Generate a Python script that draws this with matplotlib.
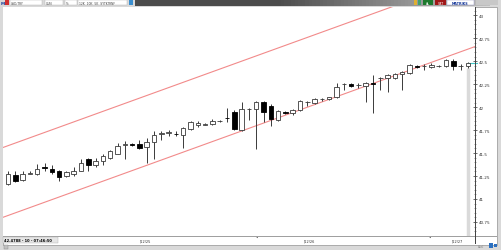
import matplotlib
matplotlib.use("Agg")
import matplotlib.pyplot as plt
from matplotlib.patches import Rectangle
import numpy as np

W, H = 501, 251

# ======================
# DATA
# ======================
opens = [41.16, 41.26, 41.21, 41.275, 41.27, 41.345, 41.33, 41.30, 41.245, 41.27,
         41.31, 41.43, 41.365, 41.41, 41.45, 41.495, 41.59, 41.595, 41.595, 41.57,
         41.615, 41.71, 41.72, 41.712, 41.70, 41.765, 41.80, 41.81, 41.82, 41.85,
         41.885, 41.95, 41.755, 41.98, 41.98, 42.06, 42.015, 41.865, 41.95, 41.94,
         41.97, 42.058, 42.047, 42.09, 42.09, 42.11, 42.253, 42.253, 42.24, 42.23,
         42.265, 42.318, 42.32, 42.32, 42.36, 42.37, 42.45, 42.448, 42.435, 42.448,
         42.45, 42.50, 42.448, 42.45]
highs = [41.30, 41.30, 41.31, 41.30, 41.38, 41.39, 41.365, 41.32, 41.31, 41.345,
         41.43, 41.45, 41.45, 41.485, 41.53, 41.605, 41.635, 41.605, 41.645, 41.66,
         41.735, 41.745, 41.755, 41.735, 41.785, 41.85, 41.85, 41.83, 41.875, 41.86,
         41.99, 41.97, 42.06, 41.99, 42.07, 42.07, 42.035, 41.97, 41.96, 41.98,
         42.08, 42.07, 42.10, 42.10, 42.11, 42.265, 42.265, 42.265, 42.265, 42.275,
         42.35, 42.33, 42.36, 42.37, 42.395, 42.47, 42.46, 42.47, 42.48, 42.46,
         42.525, 42.525, 42.47, 42.49]
lows = [41.15, 41.18, 41.20, 41.27, 41.265, 41.30, 41.27, 41.20, 41.235, 41.255,
        41.30, 41.30, 41.345, 41.375, 41.44, 41.485, 41.43, 41.58, 41.54, 41.39,
        41.43, 41.645, 41.69, 41.69, 41.56, 41.755, 41.785, 41.80, 41.81, 41.84,
        41.84, 41.755, 41.745, 41.865, 41.54, 41.84, 41.79, 41.85, 41.93, 41.915,
        41.96, 42.015, 42.035, 42.07, 42.08, 42.10, 42.19, 42.22, 42.21, 42.06,
        41.94, 42.19, 42.165, 42.305, 42.19, 42.36, 42.425, 42.405, 42.425, 42.44,
        42.435, 42.405, 42.405, 42.425]
closes = [41.27, 41.20, 41.27, 41.28, 41.33, 41.34, 41.29, 41.235, 41.29, 41.31,
          41.39, 41.365, 41.41, 41.465, 41.52, 41.58, 41.595, 41.59, 41.56, 41.615,
          41.70, 41.715, 41.725, 41.708, 41.775, 41.84, 41.83, 41.812, 41.85, 41.853,
          41.88, 41.765, 41.98, 41.983, 42.06, 41.95, 41.875, 41.96, 41.94, 41.97,
          42.07, 42.06, 42.09, 42.093, 42.105, 42.22, 42.255, 42.23, 42.243, 42.265,
          42.25, 42.32, 42.35, 42.36, 42.385, 42.46, 42.435, 42.45, 42.46, 42.45,
          42.51, 42.45, 42.45, 42.48]

# regression channel (two parallel lines)
channel_x = [-0.7, 64.0]
channel_lower = [40.80, 42.66]
channel_upper = [41.56, 43.42]

y_ticks = [40.75, 41.0, 41.25, 41.5, 41.75, 42.0, 42.25, 42.5, 42.75, 43.0]
y_labels = ["40.75", "41", "41.25", "41.5", "41.75", "42", "42.25", "42.5", "42.75", "43"]

date_labels = ["12/25", "12/26", "12/27"]
last_info = "42.4788 - 10 - 07:46:50"


# ======================
# HELPERS (pixel coords, origin top-left)
# ======================
def frect(fig, x, y, w, h, **kw):
    fig.patches.append(Rectangle((x / W, 1 - (y + h) / H), w / W, h / H,
                                 transform=fig.transFigure, **kw))


def ftext(fig, x, y, s, **kw):
    fig.text(x / W, 1 - y / H, s, **kw)


fig = plt.figure(figsize=(W / 100, H / 100), dpi=100)
fig.patch.set_facecolor("#d9d9d9")

# window panel (behind the axes)
frect(fig, 3, 8, 494, 238, facecolor="white", edgecolor="#a0a0a0", lw=0.6,
      zorder=-10)

# ======================
# TOOLBAR
# ======================
bar_ax = fig.add_axes([135 / W, 1 - 7 / H, 355 / W, 7 / H])
grad = np.concatenate([np.full(40, 0.30), np.linspace(0.30, 0.75, 60)])
bar_ax.imshow(grad[np.newaxis, :], aspect="auto", cmap="gray", vmin=0, vmax=1)
bar_ax.axis("off")

ftext(fig, 1, 4, "M", fontsize=3, color="#1a3c9c", va="center", weight="bold")
frect(fig, 5, 1, 4, 5, facecolor="#d03030")
for bx, bw, s in [(10, 32, "USD/TRY"), (45, 18, "GUN"), (65, 12, "%"),
                  (78, 49, "12K  10K  5K  SYTKTRNF")]:
    frect(fig, bx, 1, bw, 5, facecolor="white", edgecolor="#b0b0b0", lw=0.3)
    ftext(fig, bx + 1, 3.8, s, fontsize=2.2, color="#444", va="center")
frect(fig, 129, 1, 4, 5, facecolor="#3a8fd0")

frect(fig, 414, 1, 3, 5, facecolor="#e0b030")
frect(fig, 418, 1, 3, 5, facecolor="#40a070")
frect(fig, 423, 1, 10, 5, facecolor="#1e7a2e")
ftext(fig, 428, 3.8, "AL", fontsize=2.3, color="white", ha="center", va="center")
frect(fig, 435, 1, 11, 5, facecolor="#a01818")
ftext(fig, 440.5, 3.8, "SAT", fontsize=2.3, color="white", ha="center", va="center")
frect(fig, 447, 1, 27, 5, facecolor="white", edgecolor="#9090c0", lw=0.3)
ftext(fig, 460.5, 3.8, "MATRIKS", fontsize=2.4, color="#1a3c9c", ha="center",
      va="center", weight="bold")
frect(fig, 476, 1, 22, 5, facecolor="#c8c8c8")

# ======================
# PRICE CHART
# ======================
ax = fig.add_axes([3 / W, 1 - 237 / H, 472 / W, 229 / H])
ax.set_facecolor("white")

x = np.arange(len(opens))
ax.set_xlim(-0.685, 63.2 + 0.77)
ax.set_ylim(40.597, 43.09)

# current bar marker
ax.vlines(x[-1], 40.5, lows[-1], color="#dadada", lw=2.5, zorder=0)

# channel
ax.plot(channel_x, channel_lower, color="#f28a8a", lw=0.8, zorder=1)
ax.plot(channel_x, channel_upper, color="#f28a8a", lw=0.8, zorder=1)

# candles
ax.vlines(x, lows, highs, color="#3a3a3a", lw=0.7, zorder=2)
o = np.array(opens)
c = np.array(closes)
up = c >= o
ax.bar(x[up], np.maximum(c[up] - o[up], 0.002), bottom=o[up], width=0.62,
       facecolor="white", edgecolor="#3a3a3a", lw=0.6, zorder=3)
ax.bar(x[~up], np.maximum(o[~up] - c[~up], 0.002), bottom=c[~up], width=0.62,
       facecolor="black", edgecolor="black", lw=0.6, zorder=3)

# last price marker
ax.plot([x[-1], 64.2], [closes[-1], closes[-1]], color="#40c8c8", lw=0.8,
        zorder=2, clip_on=False)

for s in ["top", "left", "bottom"]:
    ax.spines[s].set_visible(False)
ax.spines["right"].set_color("#444")
ax.spines["right"].set_linewidth(0.7)
ax.yaxis.tick_right()
ax.set_yticks(y_ticks)
ax.set_yticklabels(y_labels)
ax.set_yticks(np.arange(40.65, 43.06, 0.05), minor=True)
ax.tick_params(axis="y", which="major", direction="inout", length=3, width=0.5,
               labelsize=3, colors="#333", pad=1)
ax.tick_params(axis="y", which="minor", direction="inout", length=1.5, width=0.4,
               colors="#555")
ax.set_xticks([])

# ======================
# BOTTOM STATUS ROW
# ======================
frect(fig, 3, 237, 494, 0.5, facecolor="#a0a0a0")
frect(fig, 3, 238, 55, 6, facecolor="#e6e6e6", edgecolor="#b0b0b0", lw=0.3)
ftext(fig, 4, 241.2, last_info, fontsize=2.6, color="black", va="center",
      weight="bold")
for lx, s in zip([139, 304, 452], date_labels):
    ftext(fig, lx, 241.2, "|" + s, fontsize=2.5, color="#333", va="center")
for dx in [257, 430]:
    ftext(fig, dx, 238.5, "•", fontsize=3, color="#222", ha="center", va="center")
frect(fig, 475, 229, 0.5, 16, facecolor="#444")
ftext(fig, 478, 247.5, "Ausl", fontsize=2.2, color="#888", va="center")
frect(fig, 489, 244, 4, 5, facecolor="#2a6fc0")
frect(fig, 494, 245, 3, 3, facecolor="#2a6fc0")
frect(fig, 4, 246, 4, 4, facecolor="#c0c0c0", edgecolor="#888", lw=0.3)

plt.savefig("out.png", dpi=100, facecolor=fig.get_facecolor())
plt.close()
print("saved out.png")
